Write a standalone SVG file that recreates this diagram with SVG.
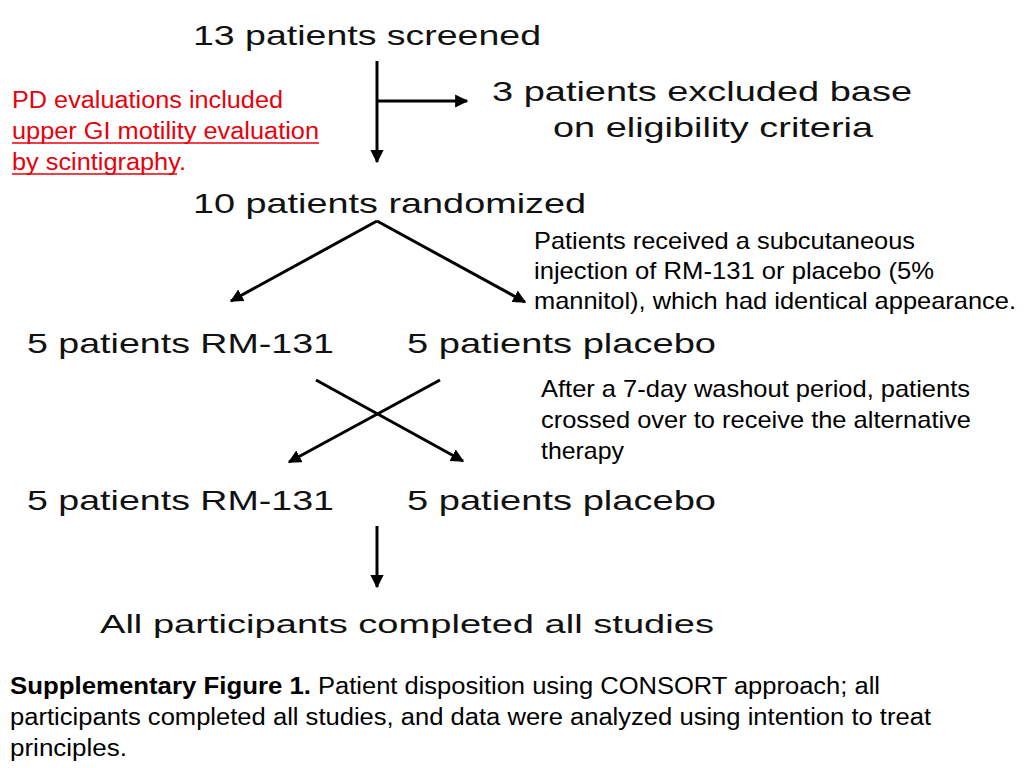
<svg xmlns="http://www.w3.org/2000/svg" width="1024" height="768" viewBox="0 0 1024 768">
<defs>
<style>
.main{font-family:"Liberation Sans",Arial,sans-serif;font-size:28px;fill:#111;}
.fin{font-size:26px;}
.note{font-family:"Liberation Sans",Arial,sans-serif;font-size:24px;fill:#000;}
.red{font-family:"Liberation Sans",Arial,sans-serif;font-size:23px;fill:#e8000b;}
.cap{font-family:"Liberation Sans",Arial,sans-serif;font-size:23px;fill:#000;}
.b{font-weight:bold;}
.conn{stroke:#000;stroke-width:3;fill:none;marker-end:url(#ah);}
.ul{stroke:#e8000b;stroke-width:1.5;}
</style>
<marker id="ah" viewBox="0 0 10 10" refX="9" refY="5" markerWidth="4.4" markerHeight="4.4" markerUnits="strokeWidth" orient="auto">
<path d="M0,0 L10,5 L0,10 z" fill="#000"/>
</marker>
</defs>
<rect width="1024" height="768" fill="#fff"/>

<g id="connectors">
<line class="conn" x1="377" y1="61" x2="377" y2="162"/>
<line class="conn" x1="377" y1="101" x2="467" y2="101"/>
<line class="conn" x1="377" y1="221" x2="231" y2="301"/>
<line class="conn" x1="377" y1="221" x2="525" y2="302"/>
<line class="conn" x1="316" y1="380" x2="463" y2="461"/>
<line class="conn" x1="440" y1="380" x2="289" y2="462"/>
<line class="conn" x1="377" y1="526" x2="377" y2="587"/>
</g>

<g id="screened"><text class="main" x="193" y="45" textLength="348" lengthAdjust="spacingAndGlyphs">13 patients screened</text></g>
<g id="excluded">
<text class="main" x="492" y="101" textLength="420" lengthAdjust="spacingAndGlyphs">3 patients excluded base</text>
<text class="main" x="553" y="137" textLength="320" lengthAdjust="spacingAndGlyphs">on eligibility criteria</text>
</g>
<g id="randomized"><text class="main" x="193" y="213" textLength="393" lengthAdjust="spacingAndGlyphs">10 patients randomized</text></g>
<g id="rm131-1"><text class="main" x="27" y="353" textLength="307" lengthAdjust="spacingAndGlyphs">5 patients RM-131</text></g>
<g id="placebo-1"><text class="main" x="407" y="353" textLength="309" lengthAdjust="spacingAndGlyphs">5 patients placebo</text></g>
<g id="rm131-2"><text class="main" x="27" y="510" textLength="307" lengthAdjust="spacingAndGlyphs">5 patients RM-131</text></g>
<g id="placebo-2"><text class="main" x="407" y="510" textLength="309" lengthAdjust="spacingAndGlyphs">5 patients placebo</text></g>
<g id="completed"><text class="main fin" x="100" y="633" textLength="614" lengthAdjust="spacingAndGlyphs">All participants completed all studies</text></g>

<g id="pd-note">
<text class="red" x="12" y="108" textLength="271" lengthAdjust="spacingAndGlyphs">PD evaluations included</text>
<text class="red" x="12" y="139" textLength="307" lengthAdjust="spacingAndGlyphs">upper GI motility evaluation</text>
<text class="red" x="12" y="170" textLength="174" lengthAdjust="spacingAndGlyphs">by scintigraphy.</text>
<line class="ul" x1="12" y1="143" x2="319" y2="143"/>
<line class="ul" x1="12" y1="174" x2="177" y2="174"/>
</g>

<g id="injection-note">
<text class="note" x="534" y="249" textLength="381" lengthAdjust="spacingAndGlyphs">Patients received a subcutaneous</text>
<text class="note" x="534" y="279" textLength="400" lengthAdjust="spacingAndGlyphs">injection of RM-131 or placebo (5%</text>
<text class="note" x="534" y="309" textLength="482" lengthAdjust="spacingAndGlyphs">mannitol), which had identical appearance.</text>
</g>

<g id="washout-note">
<text class="note" x="541" y="397" textLength="429" lengthAdjust="spacingAndGlyphs">After a 7-day washout period, patients</text>
<text class="note" x="541" y="428" textLength="430" lengthAdjust="spacingAndGlyphs">crossed over to receive the alternative</text>
<text class="note" x="541" y="459" textLength="83" lengthAdjust="spacingAndGlyphs">therapy</text>
</g>

<g id="caption">
<text class="cap b" x="10" y="694" textLength="301" lengthAdjust="spacingAndGlyphs">Supplementary Figure 1.</text>
<text class="cap" x="318" y="694" textLength="562" lengthAdjust="spacingAndGlyphs">Patient disposition using CONSORT approach; all</text>
<text class="cap" x="10" y="725" textLength="921" lengthAdjust="spacingAndGlyphs">participants completed all studies, and data were analyzed using intention to treat</text>
<text class="cap" x="10" y="756" textLength="117" lengthAdjust="spacingAndGlyphs">principles.</text>
</g>
</svg>
